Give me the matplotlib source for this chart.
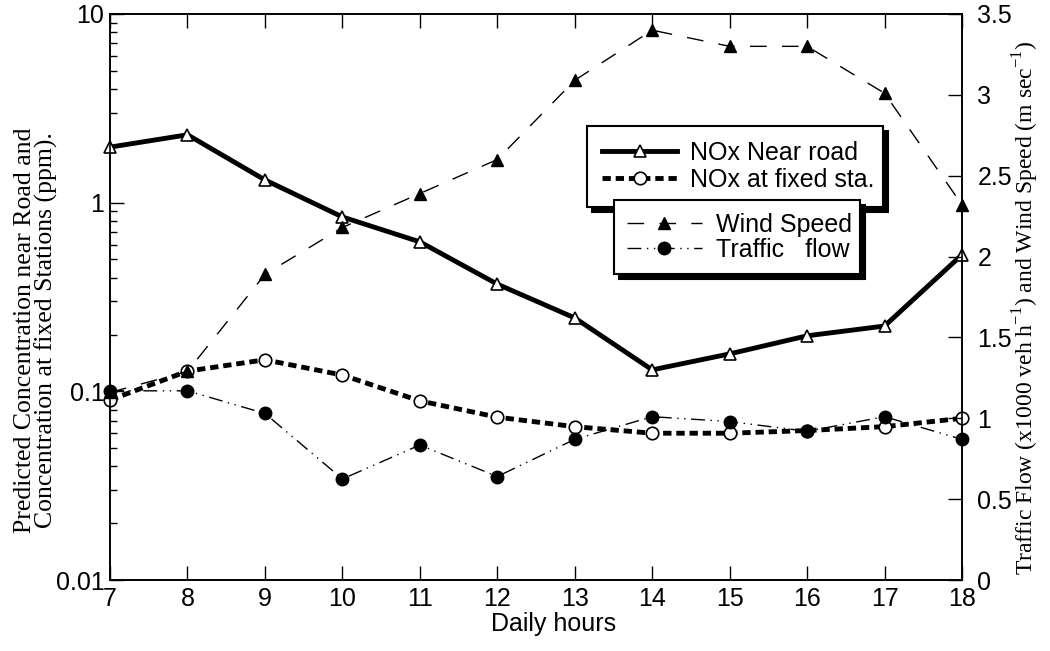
import matplotlib
matplotlib.use("Agg")
import matplotlib.pyplot as plt

plt.rcParams['lines.scale_dashes'] = False
plt.rcParams['mathtext.fontset'] = 'custom'
plt.rcParams['mathtext.rm'] = 'Liberation Serif'

hours = [7, 8, 9, 10, 11, 12, 13, 14, 15, 16, 17, 18]
# left axis (ppm, log)
nox_road = [1.97, 2.29, 1.32, 0.84, 0.62, 0.37, 0.245, 0.13, 0.158, 0.197, 0.222, 0.53]
nox_fixed = [0.090, 0.128, 0.147, 0.122, 0.089, 0.073, 0.065, 0.060, 0.060, 0.062, 0.065, 0.072]
# right axis
wind = [1.16, 1.29, 1.89, 2.18, 2.39, 2.60, 3.09, 3.40, 3.30, 3.30, 3.01, 2.32]
traffic = [1.17, 1.17, 1.03, 0.625, 0.835, 0.64, 0.87, 1.01, 0.98, 0.92, 1.01, 0.87]

left_ticks = [0.01, 0.1, 1, 10]
left_ticklabels = ['0.01', '0.1', '1', '10']
right_ticks = [0, 0.5, 1, 1.5, 2, 2.5, 3, 3.5]
right_ticklabels = ['0', '0.5', '1', '1.5', '2', '2.5', '3', '3.5']

sans = 'Liberation Sans'
serif = 'Liberation Serif'

fig = plt.figure(figsize=(10.5, 6.51), dpi=100)
ax = fig.add_axes([0.1048, 0.109, 0.8114, 0.8695])
ax2 = ax.twinx()

ax.set_yscale('log')
ax.set_ylim(0.01, 10)
ax.set_xlim(7, 18)
ax2.set_ylim(0, 3.5)

l_road, = ax.plot(hours, nox_road, color='black', lw=3.5, marker='^', ms=9,
                  mfc='white', mec='black', mew=1.2, clip_on=False, zorder=3)
l_fixed, = ax.plot(hours, nox_fixed, color='black', lw=3.5, dashes=(6, 3.5),
                   marker='o', ms=9, mfc='white', mec='black', mew=1.2,
                   clip_on=False, zorder=3)
l_wind, = ax2.plot(hours, wind, color='black', lw=1, dashes=(12, 11),
                   marker='^', ms=9, mfc='black', mec='black', clip_on=False)
l_traffic, = ax2.plot(hours, traffic, color='black', lw=1,
                      dashes=(10, 4, 1, 4, 1, 4), marker='o', ms=9,
                      mfc='black', mec='black', clip_on=False)

ax.set_yticks(left_ticks)
ax.set_yticklabels(left_ticklabels, fontname=sans, fontsize=18)
ax.set_xticks(hours)
ax.set_xticklabels([str(h) for h in hours], fontname=sans, fontsize=18)
ax2.set_yticks(right_ticks)
ax2.set_yticklabels(right_ticklabels, fontname=sans, fontsize=18)

ax.tick_params(axis='both', which='major', direction='in', length=10, width=1,
               top=True)
ax.tick_params(axis='y', which='major', pad=4)
ax.tick_params(axis='y', which='minor', direction='in', length=5, width=1)
ax.tick_params(axis='x', pad=5)
ax2.tick_params(axis='y', direction='in', length=10, width=1, pad=11)
for a in (ax, ax2):
    for s in a.spines.values():
        s.set_linewidth(1.2)

ax.set_xlabel('Daily hours', fontname=sans, fontsize=18)
ax.xaxis.set_label_coords(0.52, -0.056)
ax.set_ylabel('Predicted Concentration near Road and\nConcentration at fixed Stations (ppm).',
              fontname=serif, fontsize=18.5, linespacing=0.95)
ax.yaxis.set_label_coords(-0.061, 0.442)
ax2.set_ylabel('Traffic Flow (x1000 veh h$^{\\mathregular{-1}}$) and Wind Speed (m sec$^{\\mathregular{-1}}$)',
               fontname=serif, fontsize=17)
ax2.yaxis.set_label_coords(1.057, 0.482)

shadow = {'color': 'black', 'alpha': 1, 'ox': 3.5, 'oy': -3.5}
leg1 = ax2.legend([l_road, l_fixed], ['NOx Near road', 'NOx at fixed sta.'],
                  loc='upper left', bbox_to_anchor=(0.56, 0.702, 0.347, 0.1),
                  mode='expand', borderaxespad=0, fancybox=False, shadow=shadow,
                  prop={'family': sans, 'size': 18}, handlelength=3.0,
                  handletextpad=0.5, labelspacing=0.12, borderpad=0.6,
                  framealpha=1, edgecolor='black')
leg1.get_frame().set_linewidth(1.5)
leg1.set_zorder(5)
ax2.add_artist(leg1)
leg2 = ax2.legend([l_wind, l_traffic], ['Wind Speed', 'Traffic   flow'],
                  loc='upper left', bbox_to_anchor=(0.592, 0.571, 0.288, 0.1),
                  mode='expand', borderaxespad=0, fancybox=False, shadow=shadow,
                  prop={'family': sans, 'size': 18}, handlelength=3.0,
                  handletextpad=0.55, labelspacing=0.05, borderpad=0.5,
                  framealpha=1, edgecolor='black')
leg2.get_frame().set_linewidth(1.5)
leg2.set_zorder(6)

fig.savefig('out.png', dpi=100)
